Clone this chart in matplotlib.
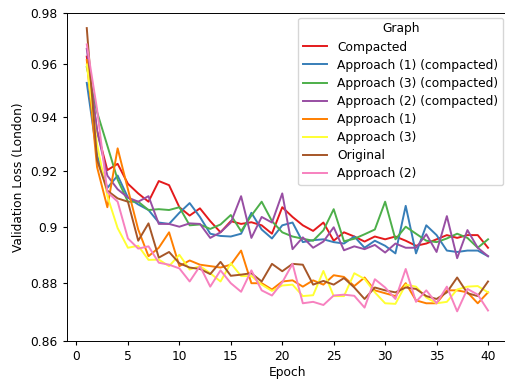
import matplotlib
matplotlib.use("Agg")
import matplotlib.pyplot as plt
from matplotlib.ticker import NullLocator

epochs = list(range(1, 41))

compacted = [0.963, 0.935, 0.9205, 0.9228, 0.9155, 0.912, 0.909, 0.9165, 0.915, 0.907,
             0.904, 0.9066, 0.902, 0.898, 0.902, 0.901, 0.9016, 0.9005, 0.8975, 0.907,
             0.9035, 0.9005, 0.8985, 0.9015, 0.895, 0.898, 0.8965, 0.8947, 0.8965, 0.8955,
             0.8965, 0.895, 0.8932, 0.894, 0.8955, 0.897, 0.896, 0.897, 0.897, 0.8925]
approach1_c = [0.953, 0.926, 0.914, 0.9185, 0.9105, 0.908, 0.906, 0.9015, 0.901, 0.905,
               0.9085, 0.9035, 0.8975, 0.8967, 0.8965, 0.8975, 0.905, 0.899, 0.8958, 0.9005,
               0.9015, 0.8945, 0.8952, 0.8955, 0.8945, 0.894, 0.8965, 0.8925, 0.895, 0.8932,
               0.8905, 0.9075, 0.8905, 0.9005, 0.897, 0.8915, 0.891, 0.8915, 0.8915, 0.8895]
approach3_c = [0.959, 0.942, 0.9295, 0.917, 0.909, 0.909, 0.906, 0.9063, 0.906, 0.907,
               0.9005, 0.9008, 0.8992, 0.9008, 0.9042, 0.8984, 0.904, 0.909, 0.902, 0.898,
               0.8965, 0.8957, 0.895, 0.8987, 0.9063, 0.8948, 0.8957, 0.8973, 0.899, 0.909,
               0.8955, 0.9, 0.8975, 0.895, 0.8945, 0.8958, 0.8975, 0.896, 0.8925, 0.8955]
approach2_c = [0.966, 0.935, 0.9185, 0.9135, 0.9105, 0.909, 0.911, 0.901, 0.901, 0.9,
               0.9012, 0.901, 0.896, 0.898, 0.9015, 0.911, 0.896, 0.9035, 0.9015, 0.912,
               0.892, 0.8962, 0.8925, 0.8947, 0.8998, 0.8916, 0.893, 0.892, 0.8935, 0.8908,
               0.894, 0.8925, 0.8925, 0.8973, 0.891, 0.9038, 0.8888, 0.8988, 0.8925, 0.8895]
approach1 = [0.9617, 0.9216, 0.907, 0.9285, 0.9135, 0.899, 0.8895, 0.8925, 0.898, 0.886,
             0.888, 0.8865, 0.886, 0.8855, 0.8865, 0.8915, 0.88, 0.88, 0.8778, 0.8806,
             0.881, 0.8788, 0.881, 0.8795, 0.8828, 0.8822, 0.879, 0.882, 0.8775, 0.8765,
             0.8755, 0.88, 0.874, 0.873, 0.873, 0.8775, 0.8775, 0.8768, 0.873, 0.8768]
approach3 = [0.960, 0.93, 0.911, 0.8995, 0.8925, 0.8932, 0.8882, 0.8883, 0.886, 0.89,
             0.8848, 0.886, 0.8835, 0.8806, 0.887, 0.8825, 0.8825, 0.8795, 0.8773, 0.8792,
             0.8795, 0.8755, 0.8758, 0.8843, 0.8755, 0.8755, 0.8835, 0.8815, 0.8768, 0.873,
             0.8728, 0.8795, 0.8788, 0.875, 0.873, 0.8735, 0.8778, 0.8788, 0.879, 0.8768]
original = [0.974, 0.9242, 0.913, 0.9102, 0.909, 0.895, 0.9012, 0.889, 0.891, 0.887,
            0.8855, 0.885, 0.8832, 0.8875, 0.8826, 0.883, 0.8835, 0.8806, 0.8868, 0.8842,
            0.8868, 0.8865, 0.8795, 0.8808, 0.8795, 0.8818, 0.8785, 0.8745, 0.8785, 0.8775,
            0.8768, 0.8785, 0.878, 0.8755, 0.8745, 0.8768, 0.882, 0.8765, 0.8755, 0.8806]
approach2 = [0.9677, 0.943, 0.9125, 0.909, 0.8958, 0.8922, 0.893, 0.8872, 0.8865, 0.8852,
             0.8806, 0.886, 0.8788, 0.8845, 0.88, 0.877, 0.8845, 0.8775, 0.8757, 0.8803,
             0.8868, 0.873, 0.8735, 0.8724, 0.8757, 0.876, 0.8756, 0.8715, 0.8814, 0.8785,
             0.8745, 0.885, 0.8735, 0.8775, 0.873, 0.8788, 0.8702, 0.878, 0.876, 0.8705]

series = [
    ("Compacted", compacted, "#e41a1c"),
    ("Approach (1) (compacted)", approach1_c, "#377eb8"),
    ("Approach (3) (compacted)", approach3_c, "#4daf4a"),
    ("Approach (2) (compacted)", approach2_c, "#984ea3"),
    ("Approach (1)", approach1, "#ff7f00"),
    ("Approach (3)", approach3, "#ffff33"),
    ("Original", original, "#a65628"),
    ("Approach (2)", approach2, "#f781bf"),
]

yticks = [0.86, 0.88, 0.9, 0.92, 0.94, 0.96, 0.98]
ytick_labels = ["0.86", "0.88", "0.9", "0.92", "0.94", "0.96", "0.98"]
xticks = [0, 5, 10, 15, 20, 25, 30, 35, 40]

plt.rcParams["font.size"] = 8.8
plt.rcParams["xtick.major.size"] = 3.0
plt.rcParams["ytick.major.size"] = 3.0
plt.rcParams["axes.linewidth"] = 0.7

fig = plt.figure(figsize=(5.05, 3.81), dpi=100)
ax = fig.add_axes([0.1321, 0.105, 0.874, 0.8618])

for name, vals, color in series:
    ax.plot(epochs, vals, color=color, linewidth=1.4, label=name)

ax.set_yscale("log")
ax.set_ylim(0.86, 0.98)
ax.set_yticks(yticks)
ax.set_yticklabels(ytick_labels)
ax.yaxis.set_minor_locator(NullLocator())
ax.set_xticks(xticks)
ax.set_xlabel("Epoch", labelpad=2)
ax.set_ylabel("Validation Loss (London)", labelpad=4)
ax.legend(title="Graph", loc="upper right", handlelength=2.0,
          labelspacing=0.42, borderaxespad=0.4)

fig.savefig("out.png", dpi=100)
